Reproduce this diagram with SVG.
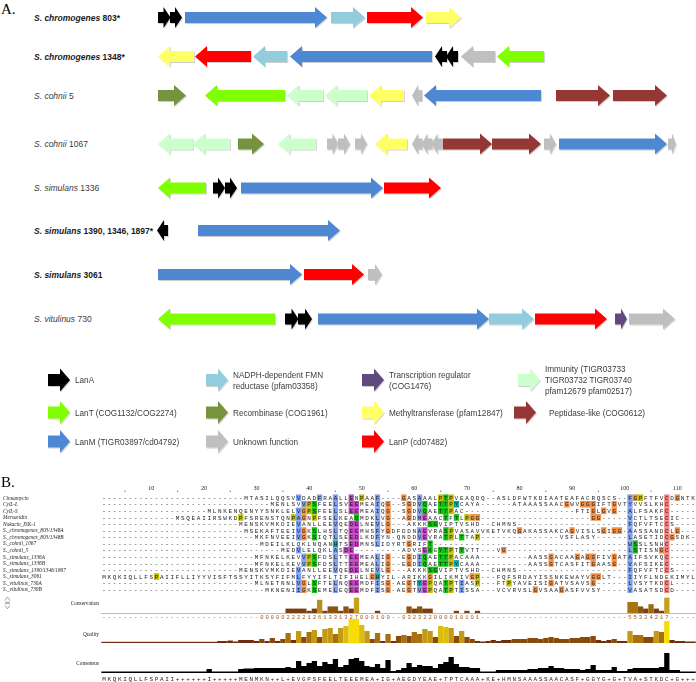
<svg xmlns="http://www.w3.org/2000/svg" xmlns:xlink="http://www.w3.org/1999/xlink" width="696" height="682" viewBox="0 0 696 682">
<defs>
<style>
.big{font-family:"Liberation Serif","Times New Roman",serif;font-size:15px;fill:#000}
.lab{font-family:"Liberation Sans",Arial,sans-serif;font-size:8.5px;fill:#3c3c3c}
.lb{font-weight:bold;fill:#1a1a1a}
.it{font-style:italic}
.leg{font-family:"Liberation Sans",Arial,sans-serif;font-size:8.2px;fill:#3c3c3c}
.id{font-family:"Liberation Serif","Times New Roman",serif;font-style:italic;font-size:5.3px;fill:#222}
.seq{font-family:"Liberation Mono","Courier New",monospace;font-size:6px;letter-spacing:1.66px;fill:#1e1e1e}
.num{font-family:"Liberation Mono","Courier New",monospace;font-size:5.5px;letter-spacing:1.96px;fill:#a0581e}
.rul{font-family:"Liberation Serif","Times New Roman",serif;font-size:6px;text-anchor:middle;fill:#222}
.an{font-family:"Liberation Serif","Times New Roman",serif;font-size:5.3px;text-anchor:end;fill:#222}
.k{fill:#000}.lt{fill:#80ff00}.lm{fill:#5088d2}.fmn{fill:#93cddd}.rec{fill:#77933c}.unk{fill:#bfbfbf}
.tr{fill:#604a7b}.met{fill:#ffff66}.lp{fill:#ff0000}.imm{fill:#ccffcc}.pep{fill:#953735}
.b{fill:#80a0f0}.r{fill:#f08080}.g{fill:#15c015}.m{fill:#c048c0}.o{fill:#f09048}.y{fill:#c0c000}.c{fill:#15a4a4}
.q1{fill:#6e2e0c}.q2{fill:#8a4a0e}.q3{fill:#a8700f}.q4{fill:#c49a14}.q5{fill:#dcbc10}.q6{fill:#f5de00}
.cv1{fill:#7b3d12}.cv3{fill:#8c5210}.cv4{fill:#a0690e}.cv5{fill:#a8740e}.cv6{fill:#b8901a}.cv7{fill:#c8a01e}
</style>
<filter id="sh" x="-5%" y="-30%" width="110%" height="170%">
<feDropShadow dx="0.8" dy="1" stdDeviation="0.7" flood-color="#000" flood-opacity="0.2"/>
</filter>
<path id="la" d="M0 -6H12V-11.5L22 0L12 11.5V6H0Z"/>
</defs>
<rect width="696" height="682" fill="#fff"/>

<!-- Panel A -->
<text class="big" x="1" y="13.5">A.</text>

<g id="labels-A">
<text class="lab lb" x="34" y="21"><tspan class="it">S. chromogenes</tspan> 803*</text>
<text class="lab lb" x="34" y="60"><tspan class="it">S. chromogenes</tspan> 1348*</text>
<text class="lab" x="34" y="98.5"><tspan class="it">S. cohnii</tspan> 5</text>
<text class="lab" x="34" y="147"><tspan class="it">S. cohnii</tspan> 1067</text>
<text class="lab" x="34" y="191"><tspan class="it">S. simulans</tspan> 1336</text>
<text class="lab lb" x="34" y="233.5"><tspan class="it">S. simulans</tspan> 1390, 1346, 1897*</text>
<text class="lab lb" x="34" y="278"><tspan class="it">S. simulans</tspan> 3061</text>
<text class="lab" x="34" y="322"><tspan class="it">S. vitulinus</tspan> 730</text>
</g>

<g id="cluster-803" filter="url(#sh)">
<path class="k" d="M158 12H163.5V7L170.5 17.5L163.5 28V23H158Z"/>
<path class="k" d="M170 12H175V7L182 17.5L175 28V23H170Z"/>
<path class="lm" d="M185 12H315V7L327 17.5L315 28V23H185Z"/>
<path class="fmn" d="M331 12H353V7L365 17.5L353 28V23H331Z"/>
<path class="lp" d="M367 12H411V7L423 17.5L411 28V23H367Z"/>
<path class="met" d="M426 12H449V7L461 17.5L449 28V23H426Z"/>
</g>
<g id="cluster-1348" filter="url(#sh)">
<path class="met" d="M194 51H170V46L158 56.5L170 67V62H194Z"/>
<path class="lp" d="M251 51H207V46L195 56.5L207 67V62H251Z"/>
<path class="fmn" d="M287 51H265V46L253 56.5L265 67V62H287Z"/>
<path class="lm" d="M432 51H302V46L290 56.5L302 67V62H432Z"/>
<path class="k" d="M447 51H442V46L435 56.5L442 67V62H447Z"/>
<path class="k" d="M458 51H453V46L446 56.5L453 67V62H458Z"/>
<path class="unk" d="M495 51H473V46L461 56.5L473 67V62H495Z"/>
<path class="lt" d="M544 51H509V46L497 56.5L509 67V62H544Z"/>
</g>
<g id="cluster-cohnii5" filter="url(#sh)">
<path class="rec" d="M158 90H174V85L186 95.5L174 106V101H158Z"/>
<path class="lt" d="M285 90H217V85L205 95.5L217 106V101H285Z"/>
<path class="imm" d="M323 90H299V85L287 95.5L299 106V101H323Z"/>
<path class="imm" d="M367 90H337V85L325 95.5L337 106V101H367Z"/>
<path class="met" d="M404 90H381V85L369 95.5L381 106V101H404Z"/>
<path class="unk" d="M422 90H418V85L412 95.5L418 106V101H422Z"/>
<path class="lm" d="M541 90H436V85L424 95.5L436 106V101H541Z"/>
<path class="pep" d="M556 90H598V85L610 95.5L598 106V101H556Z"/>
<path class="pep" d="M613 90H655V85L667 95.5L655 106V101H613Z"/>
</g>
<g id="cluster-cohnii1067" filter="url(#sh)">
<path class="imm" d="M193 138.5H170V133.5L158 144L170 154.5V149.5H193Z"/>
<path class="imm" d="M230 138.5H205V133.5L193 144L205 154.5V149.5H230Z"/>
<path class="rec" d="M238 138.5H252V133.5L264 144L252 154.5V149.5H238Z"/>
<path class="imm" d="M316 138.5H290V133.5L278 144L290 154.5V149.5H316Z"/>
<path class="unk" d="M327 138.5H332.5V133.5L338.5 144L332.5 154.5V149.5H327Z"/>
<path class="unk" d="M338 138.5H344V133.5L350 144L344 154.5V149.5H338Z"/>
<path class="unk" d="M355 138.5H361V133.5L367 144L361 154.5V149.5H355Z"/>
<path class="met" d="M407 138.5H387V133.5L375 144L387 154.5V149.5H407Z"/>
<path class="unk" d="M422.5 138.5H418V133.5L412 144L418 154.5V149.5H422.5Z"/>
<path class="unk" d="M432.5 138.5H427.5V133.5L421.5 144L427.5 154.5V149.5H432.5Z"/>
<path class="unk" d="M443 138.5H437.5V133.5L431.5 144L437.5 154.5V149.5H443Z"/>
<path class="pep" d="M443 138.5H480V133.5L492 144L480 154.5V149.5H443Z"/>
<path class="pep" d="M492 138.5H529V133.5L541 144L529 154.5V149.5H492Z"/>
<path class="unk" d="M544 138.5H550V133.5L556 144L550 154.5V149.5H544Z"/>
<path class="lm" d="M559 138.5H655V133.5L667 144L655 154.5V149.5H559Z"/>
<path class="unk" d="M668 138.5H672V133.5L676 144L672 154.5V149.5H668Z"/>
</g>
<g id="cluster-1336" filter="url(#sh)">
<path class="lt" d="M206 182.5H170V177.5L158 188L170 198.5V193.5H206Z"/>
<path class="k" d="M213 182.5H218V177.5L225 188L218 198.5V193.5H213Z"/>
<path class="k" d="M225 182.5H230V177.5L237 188L230 198.5V193.5H225Z"/>
<path class="lm" d="M241 182.5H371V177.5L383 188L371 198.5V193.5H241Z"/>
<path class="lp" d="M384 182.5H429V177.5L441 188L429 198.5V193.5H384Z"/>
</g>
<g id="cluster-1390" filter="url(#sh)">
<path class="k" d="M168 225H164V220L157 230.5L164 241V236H168Z"/>
<path class="lm" d="M198 225H328V220L340 230.5L328 241V236H198Z"/>
</g>
<g id="cluster-3061" filter="url(#sh)">
<path class="lm" d="M158 269H290V264L302 274.5L290 285V280H158Z"/>
<path class="lp" d="M304 269H352V264L364 274.5L352 285V280H304Z"/>
<path class="unk" d="M368 269H375V264L382 274.5L375 285V280H368Z"/>
</g>
<g id="cluster-730" filter="url(#sh)">
<path class="lt" d="M275 313.5H170V308.5L158 319L170 329.5V324.5H275Z"/>
<path class="k" d="M285 313.5H291.5V308.5L298.5 319L291.5 329.5V324.5H285Z"/>
<path class="k" d="M298 313.5H305V308.5L312 319L305 329.5V324.5H298Z"/>
<path class="lm" d="M318 313.5H477V308.5L489 319L477 329.5V324.5H318Z"/>
<path class="fmn" d="M489 313.5H522V308.5L534 319L522 329.5V324.5H489Z"/>
<path class="lp" d="M535 313.5H595V308.5L607 319L595 329.5V324.5H535Z"/>
<path class="tr" d="M615 313.5H621V308.5L627 319L621 329.5V324.5H615Z"/>
<path class="unk" d="M629 313.5H663V308.5L675 319L663 329.5V324.5H629Z"/>
</g>

<g id="legend">
<g filter="url(#sh)">
<use xlink:href="#la" href="#la" class="k" x="48" y="380"/>
<use xlink:href="#la" href="#la" class="lt" x="48" y="412.5"/>
<use xlink:href="#la" href="#la" class="lm" x="48" y="441.5"/>
<use xlink:href="#la" href="#la" class="fmn" x="206" y="380"/>
<use xlink:href="#la" href="#la" class="rec" x="206" y="412.5"/>
<use xlink:href="#la" href="#la" class="unk" x="206" y="441.5"/>
<use xlink:href="#la" href="#la" class="tr" x="362" y="380"/>
<use xlink:href="#la" href="#la" class="met" x="362" y="412.5"/>
<use xlink:href="#la" href="#la" class="lp" x="362" y="441.5"/>
<use xlink:href="#la" href="#la" class="imm" x="518" y="380"/>
<use xlink:href="#la" href="#la" class="pep" x="514" y="412.5"/>
</g>
<text class="leg" x="75" y="383">LanA</text>
<text class="leg" x="75" y="415.5">LanT (COG1132/COG2274)</text>
<text class="leg" x="75" y="444.5">LanM (TIGR03897/cd04792)</text>
<text class="leg" x="233" y="377.5">NADPH-dependent FMN</text>
<text class="leg" x="233" y="388.5">reductase (pfam03358)</text>
<text class="leg" x="233" y="415.5">Recombinase (COG1961)</text>
<text class="leg" x="233" y="444.5">Unknown function</text>
<text class="leg" x="389" y="377.5">Transcription regulator</text>
<text class="leg" x="389" y="388.5">(COG1476)</text>
<text class="leg" x="389" y="415.5">Methyltransferase (pfam12847)</text>
<text class="leg" x="389" y="444.5">LanP (cd07482)</text>
<text class="leg" x="545" y="372">Immunity (TIGR03733</text>
<text class="leg" x="545" y="383">TIGR03732 TIGR03740</text>
<text class="leg" x="545" y="394">pfam12679 pfam02517)</text>
<text class="leg" x="549" y="415.5">Peptidase-like (COG0612)</text>
</g>

<!-- Panel B -->
<text class="big" x="1" y="487">B.</text>

<g id="ruler">
<text class="rul" x="151.34" y="490">10</text>
<text class="rul" x="203.94" y="490">20</text>
<text class="rul" x="256.54" y="490">30</text>
<text class="rul" x="309.14" y="490">40</text>
<text class="rul" x="361.74" y="490">50</text>
<text class="rul" x="414.34" y="490">60</text>
<text class="rul" x="466.94" y="490">70</text>
<text class="rul" x="519.54" y="490">80</text>
<text class="rul" x="572.14" y="490">90</text>
<text class="rul" x="624.74" y="490">100</text>
<text class="rul" x="677.34" y="490">110</text>
<path d="M125.04 490.6v1.4M177.64 490.6v1.4M230.24 490.6v1.4M282.84 490.6v1.4M335.44 490.6v1.4M388.04 490.6v1.4M440.64 490.6v1.4M493.24 490.6v1.4M545.84 490.6v1.4M598.44 490.6v1.4M651.04 490.6v1.4" stroke="#333" stroke-width="0.7"/>
</g>

<g id="highlights">
<g transform="translate(101.37 494.4) scale(5.26 1)">
<rect x="37" width="1" height="6.6" class="b"/><rect x="41" width="1" height="6.6" class="b"/><rect x="44" width="1" height="6.6" class="b"/><rect x="47" width="1" height="6.6" class="m"/><rect x="49" width="1" height="6.6" class="y"/><rect x="52" width="1" height="6.6" class="b"/><rect x="57" width="1" height="6.6" class="o"/><rect x="60" width="1" height="6.6" class="b"/><rect x="64" width="1" height="6.6" class="y"/><rect x="65" width="1" height="6.6" class="g"/><rect x="66" width="1" height="6.6" class="y"/><rect x="100" width="1" height="6.6" class="b"/><rect x="101" width="1" height="6.6" class="o"/><rect x="102" width="1" height="6.6" class="y"/><rect x="107" width="1" height="6.6" class="r"/><rect x="109" width="1" height="6.6" class="o"/>
</g>
<g transform="translate(101.37 500.97) scale(5.26 1)">
<rect x="38" width="1" height="6.6" class="b"/><rect x="39" width="1" height="6.6" class="y"/><rect x="40" width="1" height="6.6" class="g"/><rect x="44" width="1" height="6.6" class="b"/><rect x="47" width="2" height="6.6" class="m"/><rect x="52" width="1" height="6.6" class="b"/><rect x="54" width="1" height="6.6" class="o"/><rect x="58" width="1" height="6.6" class="o"/><rect x="60" width="1" height="6.6" class="b"/><rect x="61" width="1" height="6.6" class="g"/><rect x="64" width="2" height="6.6" class="g"/><rect x="66" width="1" height="6.6" class="y"/><rect x="67" width="1" height="6.6" class="c"/><rect x="88" width="1" height="6.6" class="o"/><rect x="91" width="3" height="6.6" class="o"/><rect x="97" width="1" height="6.6" class="o"/><rect x="100" width="1" height="6.6" class="b"/><rect x="107" width="1" height="6.6" class="r"/>
</g>
<g transform="translate(101.37 507.54) scale(5.26 1)">
<rect x="37" width="1" height="6.6" class="b"/><rect x="38" width="1" height="6.6" class="o"/><rect x="39" width="1" height="6.6" class="y"/><rect x="40" width="1" height="6.6" class="g"/><rect x="44" width="1" height="6.6" class="b"/><rect x="47" width="2" height="6.6" class="m"/><rect x="52" width="1" height="6.6" class="b"/><rect x="54" width="1" height="6.6" class="o"/><rect x="58" width="1" height="6.6" class="o"/><rect x="60" width="1" height="6.6" class="b"/><rect x="61" width="1" height="6.6" class="g"/><rect x="64" width="2" height="6.6" class="g"/><rect x="66" width="1" height="6.6" class="y"/><rect x="93" width="1" height="6.6" class="o"/><rect x="95" width="1" height="6.6" class="o"/><rect x="97" width="1" height="6.6" class="o"/><rect x="100" width="1" height="6.6" class="b"/><rect x="107" width="1" height="6.6" class="r"/>
</g>
<g transform="translate(101.37 514.11) scale(5.26 1)">
<rect x="26" width="1" height="6.6" class="y"/><rect x="36" width="1" height="6.6" class="y"/><rect x="37" width="1" height="6.6" class="b"/><rect x="38" width="1" height="6.6" class="o"/><rect x="40" width="1" height="6.6" class="y"/><rect x="44" width="1" height="6.6" class="b"/><rect x="48" width="1" height="6.6" class="g"/><rect x="52" width="1" height="6.6" class="b"/><rect x="54" width="1" height="6.6" class="o"/><rect x="58" width="1" height="6.6" class="o"/><rect x="60" width="1" height="6.6" class="b"/><rect x="61" width="1" height="6.6" class="m"/><rect x="65" width="1" height="6.6" class="g"/><rect x="67" width="1" height="6.6" class="g"/><rect x="69" width="1" height="6.6" class="y"/><rect x="70" width="2" height="6.6" class="o"/><rect x="93" width="2" height="6.6" class="o"/><rect x="100" width="1" height="6.6" class="b"/><rect x="107" width="1" height="6.6" class="r"/>
</g>
<g transform="translate(101.37 520.68) scale(5.26 1)">
<rect x="37" width="1" height="6.6" class="b"/><rect x="44" width="1" height="6.6" class="b"/><rect x="47" width="2" height="6.6" class="m"/><rect x="52" width="1" height="6.6" class="b"/><rect x="54" width="1" height="6.6" class="o"/><rect x="62" width="2" height="6.6" class="g"/><rect x="100" width="1" height="6.6" class="b"/><rect x="107" width="1" height="6.6" class="r"/>
</g>
<g transform="translate(101.37 527.25) scale(5.26 1)">
<rect x="37" width="1" height="6.6" class="b"/><rect x="38" width="1" height="6.6" class="o"/><rect x="40" width="1" height="6.6" class="g"/><rect x="44" width="1" height="6.6" class="b"/><rect x="47" width="2" height="6.6" class="m"/><rect x="52" width="1" height="6.6" class="b"/><rect x="54" width="1" height="6.6" class="o"/><rect x="60" width="1" height="6.6" class="b"/><rect x="61" width="1" height="6.6" class="m"/><rect x="65" width="1" height="6.6" class="g"/><rect x="66" width="1" height="6.6" class="y"/><rect x="79" width="1" height="6.6" class="o"/><rect x="89" width="1" height="6.6" class="o"/><rect x="95" width="1" height="6.6" class="o"/><rect x="97" width="2" height="6.6" class="o"/><rect x="100" width="1" height="6.6" class="b"/><rect x="107" width="1" height="6.6" class="r"/><rect x="109" width="1" height="6.6" class="o"/>
</g>
<g transform="translate(101.37 533.82) scale(5.26 1)">
<rect x="37" width="1" height="6.6" class="b"/><rect x="38" width="1" height="6.6" class="o"/><rect x="40" width="1" height="6.6" class="g"/><rect x="44" width="1" height="6.6" class="b"/><rect x="47" width="2" height="6.6" class="m"/><rect x="52" width="1" height="6.6" class="b"/><rect x="60" width="1" height="6.6" class="b"/><rect x="61" width="1" height="6.6" class="m"/><rect x="65" width="1" height="6.6" class="g"/><rect x="66" width="1" height="6.6" class="y"/><rect x="68" width="1" height="6.6" class="g"/><rect x="71" width="1" height="6.6" class="y"/><rect x="100" width="1" height="6.6" class="b"/><rect x="107" width="1" height="6.6" class="r"/><rect x="108" width="1" height="6.6" class="o"/>
</g>
<g transform="translate(101.37 540.39) scale(5.26 1)">
<rect x="44" width="1" height="6.6" class="c"/><rect x="47" width="2" height="6.6" class="m"/><rect x="52" width="1" height="6.6" class="b"/><rect x="58" width="1" height="6.6" class="o"/><rect x="62" width="1" height="6.6" class="g"/><rect x="100" width="1" height="6.6" class="b"/><rect x="101" width="1" height="6.6" class="g"/><rect x="107" width="1" height="6.6" class="r"/>
</g>
<g transform="translate(101.37 546.96) scale(5.26 1)">
<rect x="37" width="1" height="6.6" class="b"/><rect x="44" width="1" height="6.6" class="b"/><rect x="46" width="2" height="6.6" class="m"/><rect x="61" width="1" height="6.6" class="m"/><rect x="62" width="1" height="6.6" class="g"/><rect x="64" width="2" height="6.6" class="g"/><rect x="66" width="1" height="6.6" class="y"/><rect x="68" width="1" height="6.6" class="g"/><rect x="76" width="1" height="6.6" class="o"/><rect x="100" width="1" height="6.6" class="b"/><rect x="101" width="1" height="6.6" class="g"/><rect x="106" width="1" height="6.6" class="o"/><rect x="107" width="1" height="6.6" class="r"/>
</g>
<g transform="translate(101.37 553.53) scale(5.26 1)">
<rect x="38" width="1" height="6.6" class="b"/><rect x="39" width="1" height="6.6" class="y"/><rect x="40" width="1" height="6.6" class="g"/><rect x="44" width="1" height="6.6" class="b"/><rect x="47" width="2" height="6.6" class="m"/><rect x="52" width="1" height="6.6" class="b"/><rect x="54" width="1" height="6.6" class="o"/><rect x="58" width="1" height="6.6" class="o"/><rect x="60" width="1" height="6.6" class="b"/><rect x="61" width="1" height="6.6" class="g"/><rect x="64" width="2" height="6.6" class="g"/><rect x="66" width="1" height="6.6" class="y"/><rect x="85" width="1" height="6.6" class="o"/><rect x="90" width="1" height="6.6" class="o"/><rect x="92" width="2" height="6.6" class="o"/><rect x="97" width="1" height="6.6" class="o"/><rect x="100" width="1" height="6.6" class="b"/><rect x="107" width="1" height="6.6" class="r"/>
</g>
<g transform="translate(101.37 560.1) scale(5.26 1)">
<rect x="38" width="1" height="6.6" class="b"/><rect x="39" width="1" height="6.6" class="y"/><rect x="40" width="1" height="6.6" class="g"/><rect x="44" width="1" height="6.6" class="b"/><rect x="47" width="2" height="6.6" class="m"/><rect x="52" width="1" height="6.6" class="b"/><rect x="54" width="1" height="6.6" class="o"/><rect x="58" width="1" height="6.6" class="o"/><rect x="60" width="1" height="6.6" class="b"/><rect x="61" width="1" height="6.6" class="g"/><rect x="64" width="2" height="6.6" class="g"/><rect x="66" width="1" height="6.6" class="y"/><rect x="67" width="1" height="6.6" class="c"/><rect x="85" width="1" height="6.6" class="o"/><rect x="93" width="1" height="6.6" class="o"/><rect x="97" width="1" height="6.6" class="o"/><rect x="100" width="1" height="6.6" class="b"/><rect x="107" width="1" height="6.6" class="r"/>
</g>
<g transform="translate(101.37 566.67) scale(5.26 1)">
<rect x="37" width="1" height="6.6" class="b"/><rect x="44" width="1" height="6.6" class="b"/><rect x="47" width="2" height="6.6" class="m"/><rect x="52" width="1" height="6.6" class="b"/><rect x="54" width="1" height="6.6" class="o"/><rect x="62" width="2" height="6.6" class="g"/><rect x="100" width="1" height="6.6" class="b"/><rect x="107" width="1" height="6.6" class="r"/>
</g>
<g transform="translate(101.37 573.24) scale(5.26 1)">
<rect x="10" width="1" height="6.6" class="y"/><rect x="37" width="1" height="6.6" class="b"/><rect x="51" width="1" height="6.6" class="o"/><rect x="52" width="1" height="6.6" class="c"/><rect x="62" width="1" height="6.6" class="o"/><rect x="70" width="1" height="6.6" class="o"/><rect x="71" width="1" height="6.6" class="y"/><rect x="93" width="2" height="6.6" class="o"/><rect x="100" width="1" height="6.6" class="b"/>
</g>
<g transform="translate(101.37 579.81) scale(5.26 1)">
<rect x="37" width="1" height="6.6" class="b"/><rect x="38" width="1" height="6.6" class="o"/><rect x="40" width="1" height="6.6" class="g"/><rect x="44" width="1" height="6.6" class="b"/><rect x="47" width="2" height="6.6" class="m"/><rect x="52" width="1" height="6.6" class="b"/><rect x="54" width="1" height="6.6" class="o"/><rect x="58" width="1" height="6.6" class="o"/><rect x="60" width="1" height="6.6" class="c"/><rect x="61" width="1" height="6.6" class="m"/><rect x="62" width="1" height="6.6" class="y"/><rect x="65" width="1" height="6.6" class="g"/><rect x="66" width="1" height="6.6" class="y"/><rect x="68" width="1" height="6.6" class="b"/><rect x="71" width="1" height="6.6" class="y"/><rect x="77" width="1" height="6.6" class="y"/><rect x="85" width="1" height="6.6" class="o"/><rect x="93" width="1" height="6.6" class="o"/><rect x="100" width="1" height="6.6" class="b"/><rect x="107" width="1" height="6.6" class="r"/>
</g>
<g transform="translate(101.37 586.38) scale(5.26 1)">
<rect x="37" width="1" height="6.6" class="b"/><rect x="38" width="1" height="6.6" class="o"/><rect x="40" width="1" height="6.6" class="g"/><rect x="44" width="1" height="6.6" class="b"/><rect x="47" width="2" height="6.6" class="m"/><rect x="52" width="1" height="6.6" class="b"/><rect x="54" width="1" height="6.6" class="o"/><rect x="58" width="1" height="6.6" class="o"/><rect x="60" width="1" height="6.6" class="b"/><rect x="61" width="1" height="6.6" class="m"/><rect x="62" width="1" height="6.6" class="y"/><rect x="65" width="1" height="6.6" class="g"/><rect x="66" width="1" height="6.6" class="y"/><rect x="68" width="1" height="6.6" class="b"/><rect x="82" width="1" height="6.6" class="o"/><rect x="87" width="1" height="6.6" class="o"/><rect x="100" width="1" height="6.6" class="b"/><rect x="107" width="1" height="6.6" class="r"/>
</g>
</g>

<g id="seq-ids">
<text class="id" x="3" y="499.5">Cinnamycin</text>
<text class="id" x="3" y="506.07">CylL-L</text>
<text class="id" x="3" y="512.64">CylL-S</text>
<text class="id" x="3" y="519.21">Mersacidin</text>
<text class="id" x="3" y="525.78">Nukacin_ISK-1</text>
<text class="id" x="3" y="532.35">S._chromogenes_803/1348A</text>
<text class="id" x="3" y="538.92">S._chromogenes_803/1348B</text>
<text class="id" x="3" y="545.49">S._cohnii_1067</text>
<text class="id" x="3" y="552.06">S._cohnii_5</text>
<text class="id" x="3" y="558.63">S._simulans_1336A</text>
<text class="id" x="3" y="565.2">S._simulans_1336B</text>
<text class="id" x="3" y="571.77">S._simulans_1390/1346/1897</text>
<text class="id" x="3" y="578.34">S._simulans_3061</text>
<text class="id" x="3" y="584.91">S._vitulinus_730A</text>
<text class="id" x="3" y="591.48">S._vitulinus_730B</text>
</g>

<g id="sequences">
<text class="seq" y="499.8"><tspan x="102.2">---------------------------</tspan><tspan x="244.22">MTASILQQSVVDADFRAALLENPAAF</tspan><tspan x="380.98">----</tspan><tspan x="402.02">GASAAALPTPVEAQDQ</tspan><tspan x="486.18">--</tspan><tspan x="496.7">ASLDFWTKDIAATEAFACRQSCS</tspan><tspan x="617.68">--</tspan><tspan x="628.2">FGPFTFVCDGNTK</tspan></text>
<text class="seq" y="506.37"><tspan x="102.2">--------------------------------</tspan><tspan x="270.52">MENLSVVPSFEELSVEEMEAIQG</tspan><tspan x="391.5">--</tspan><tspan x="402.02">SGDVQAETTPYCAYA</tspan><tspan x="480.92">------</tspan><tspan x="512.48">ATAAASSAACGWVGGGIFTGVT</tspan><tspan x="628.2">YVVSLKHC</tspan><tspan x="670.28">-----</tspan></text>
<text class="seq" y="512.94"><tspan x="102.2">--------------------</tspan><tspan x="207.4">MLNKENQENYYSNKLELVGPSFEELSLEEMEAIQG</tspan><tspan x="391.5">--</tspan><tspan x="402.02">SGDVQAETTPAC</tspan><tspan x="465.14">---------------------</tspan><tspan x="575.6">FTIGLGVG</tspan><tspan x="617.68">--</tspan><tspan x="628.2">ALFSAKFC</tspan><tspan x="670.28">-----</tspan></text>
<text class="seq" y="519.51"><tspan x="102.2">--------------</tspan><tspan x="175.84">MSQEAIIRSWKDPFSRENSTQNPAGNPFSELKEAQMDKLVG</tspan><tspan x="391.5">--</tspan><tspan x="402.02">AGDMEAACTFTLPGG</tspan><tspan x="480.92">---------------------</tspan><tspan x="591.38">GG</tspan><tspan x="601.9">-----</tspan><tspan x="628.2">VCTLTSECIC</tspan><tspan x="680.8">---</tspan></text>
<text class="seq" y="526.08"><tspan x="102.2">--------------------------</tspan><tspan x="238.96">MENSKVMKDIEVANLLEEVQEDELNEVLG</tspan><tspan x="391.5">---</tspan><tspan x="407.28">AKKKSGVIPTVSHD</tspan><tspan x="480.92">--</tspan><tspan x="491.44">CHMNS</tspan><tspan x="517.74">---------------------</tspan><tspan x="628.2">FQFVFTCCS</tspan><tspan x="675.54">----</tspan></text>
<text class="seq" y="532.65"><tspan x="102.2">---------------------------</tspan><tspan x="244.22">MSEKAFTEEIVGKSLHSLTQEEMHSFYGDFDDNAEVRASPVASAVVKETVKQGAKASSAKCAGVISLSGIGG</tspan><tspan x="622.94">-</tspan><tspan x="628.2">AASSANDCLG</tspan><tspan x="680.8">---</tspan></text>
<text class="seq" y="539.22"><tspan x="102.2">-----------------------------</tspan><tspan x="254.74">MKFNVEEIVGKSIQTLSEEDLKDFYN</tspan><tspan x="391.5">-</tspan><tspan x="396.76">QNDDVEVRATPLTTAP</tspan><tspan x="480.92">---------------</tspan><tspan x="559.82">VSFLASY</tspan><tspan x="596.64">------</tspan><tspan x="628.2">LASETIDCGSDK</tspan><tspan x="691.32">-</tspan></text>
<text class="seq" y="545.79"><tspan x="102.2">------------------------------</tspan><tspan x="260">MDEILKLQKLNQANHTSEDMNSLIDYRTGRIFT</tspan><tspan x="433.58">-------------------------------------</tspan><tspan x="628.2">WSSLSNHC</tspan><tspan x="670.28">-----</tspan></text>
<text class="seq" y="552.36"><tspan x="102.2">----------------------------------</tspan><tspan x="281.04">MEDVLELQKLASDE</tspan><tspan x="354.68">---------</tspan><tspan x="402.02">ADVSEKGYTPTTVTT</tspan><tspan x="480.92">---</tspan><tspan x="496.7">VG</tspan><tspan x="507.22">-----------------------</tspan><tspan x="628.2">LSTISNGC</tspan><tspan x="670.28">-----</tspan></text>
<text class="seq" y="558.93"><tspan x="102.2">-----------------------------</tspan><tspan x="254.74">MFNKELKEVVPSFDSLTTEEMEALIG</tspan><tspan x="391.5">--</tspan><tspan x="402.02">EGDIQAETTPACAAA</tspan><tspan x="480.92">---------</tspan><tspan x="528.26">AASSGACAAGAGGFIVGAT</tspan><tspan x="628.2">AIFSVKQC</tspan><tspan x="670.28">-----</tspan></text>
<text class="seq" y="565.5"><tspan x="102.2">-----------------------------</tspan><tspan x="254.74">MFNKELKEVVPSFDSLTTEEMEALIG</tspan><tspan x="391.5">--</tspan><tspan x="402.02">EGDIQAETTPYCAAA</tspan><tspan x="480.92">---------</tspan><tspan x="528.26">AASSGTCASFITGAASG</tspan><tspan x="617.68">--</tspan><tspan x="628.2">VAFSIKEC</tspan><tspan x="670.28">-----</tspan></text>
<text class="seq" y="572.07"><tspan x="102.2">--------------------------</tspan><tspan x="238.96">MENSKVMKDIEVANLLEEVQEDELNEVLG</tspan><tspan x="391.5">---</tspan><tspan x="407.28">AKKKSGVIPTVSHD</tspan><tspan x="480.92">--</tspan><tspan x="491.44">CHMNS</tspan><tspan x="517.74">---------------------</tspan><tspan x="628.2">FQFVFTCCS</tspan><tspan x="675.54">----</tspan></text>
<text class="seq" y="578.64"><tspan x="102.2">MKQKIQLLFSPAIIFLLIYYVISFTSSYITKSYFIFMLFYYIFLTIFIHELGHYIL</tspan><tspan x="396.76">-</tspan><tspan x="402.02">ARIKKGILIKMIVGP</tspan><tspan x="480.92">---</tspan><tspan x="496.7">FQFSRDAYISSNKEWAYVGGLT</tspan><tspan x="612.42">---</tspan><tspan x="628.2">IIYFLNDEKIMYL</tspan></text>
<text class="seq" y="585.21"><tspan x="102.2">-----------------------------</tspan><tspan x="254.74">MLNETNNLVGLSFTELNQEEMDFISG</tspan><tspan x="391.5">-</tspan><tspan x="396.76">AEGTYEPQATPTIASP</tspan><tspan x="480.92">---</tspan><tspan x="496.7">FTPYAVEISIGATVSAVSG</tspan><tspan x="596.64">------</tspan><tspan x="628.2">LVSYTKDCL</tspan><tspan x="675.54">----</tspan></text>
<text class="seq" y="591.78"><tspan x="102.2">-------------------------------</tspan><tspan x="265.26">MKNENIIGKSEMELEQEEMDFISG</tspan><tspan x="391.5">-</tspan><tspan x="396.76">AEGTVEPQATPTISSA</tspan><tspan x="480.92">---</tspan><tspan x="496.7">VCVRVSLGVSAAGASFVVSY</tspan><tspan x="601.9">-----</tspan><tspan x="628.2">VASATSDCD</tspan><tspan x="675.54">----</tspan></text>
</g>

<g id="annotations">
<path d="M5 600.5L7.5 597L10 600.5M5 602.2H10M5 603.6H10M5 605.3L7.5 608.8L10 605.3" fill="none" stroke="#666" stroke-width="0.6"/>
<text class="an" x="99" y="605">Conservation</text>
<text class="an" x="99" y="636">Quality</text>
<text class="an" x="99" y="665">Consensus</text>
<line x1="101" y1="613.5" x2="696" y2="613.5" stroke="#aaa" stroke-width="0.8"/>
<g transform="translate(101.37 613) scale(5.26 -1)">
<rect x="35" width="4" height="4.4" class="cv1"/><rect x="39" width="1" height="2.2" class="cv1"/><rect x="40" width="1" height="4.4" class="cv1"/><rect x="41" width="1" height="13.2" class="cv6"/><rect x="42" width="1" height="2.2" class="cv1"/><rect x="43" width="2" height="6.6" class="cv3"/><rect x="45" width="1" height="2.2" class="cv1"/><rect x="46" width="1" height="6.6" class="cv3"/><rect x="47" width="1" height="4.4" class="cv1"/><rect x="48" width="1" height="15.4" class="cv7"/><rect x="52" width="1" height="2.2" class="cv1"/><rect x="58" width="1" height="6.6" class="cv3"/><rect x="59" width="1" height="4.4" class="cv1"/><rect x="60" width="1" height="6.6" class="cv3"/><rect x="61" width="2" height="4.4" class="cv1"/><rect x="67" width="1" height="2.2" class="cv1"/><rect x="69" width="1" height="2.2" class="cv1"/><rect x="71" width="1" height="2.2" class="cv1"/><rect x="100" width="2" height="11" class="cv5"/><rect x="102" width="1" height="6.6" class="cv3"/><rect x="103" width="1" height="4.4" class="cv1"/><rect x="104" width="1" height="8.8" class="cv4"/><rect x="105" width="1" height="4.4" class="cv1"/><rect x="106" width="1" height="2.2" class="cv1"/><rect x="107" width="1" height="15.4" class="cv7"/>
</g>
<text class="num" y="618.5"><tspan x="102.35">------------------------------</tspan><tspan x="260.15">0000022221261331327000100</tspan><tspan x="391.65">--</tspan><tspan x="402.17">032322000010101</tspan><tspan x="481.07">----------------------------</tspan><tspan x="628.35">55324217</tspan><tspan x="670.43">-----</tspan></text>
<g transform="translate(101.37 643) scale(5.26 -1)">
<rect x="0" width="22" height="1.2" class="q1"/><rect x="22" width="2" height="2" class="q1"/><rect x="24" width="1" height="2.5" class="q1"/><rect x="25" width="1" height="1.5" class="q1"/><rect x="26" width="3" height="3" class="q1"/><rect x="29" width="1" height="2" class="q1"/><rect x="30" width="1" height="4" class="q2"/><rect x="31" width="1" height="2" class="q1"/><rect x="32" width="1" height="5" class="q2"/><rect x="33" width="1" height="2" class="q1"/><rect x="34" width="1" height="4" class="q2"/><rect x="35" width="1" height="10" class="q3"/><rect x="36" width="1" height="3" class="q1"/><rect x="37" width="1" height="12" class="q4"/><rect x="38" width="1" height="6" class="q2"/><rect x="39" width="1" height="11" class="q3"/><rect x="40" width="1" height="13" class="q4"/><rect x="41" width="1" height="6" class="q2"/><rect x="42" width="1" height="14" class="q4"/><rect x="43" width="1" height="15" class="q4"/><rect x="44" width="1" height="9" class="q3"/><rect x="45" width="1" height="15" class="q4"/><rect x="46" width="1" height="17" class="q5"/><rect x="47" width="2" height="24" class="q6"/><rect x="49" width="1" height="18" class="q5"/><rect x="50" width="1" height="12" class="q4"/><rect x="51" width="1" height="4" class="q2"/><rect x="52" width="1" height="10" class="q3"/><rect x="53" width="1" height="2" class="q1"/><rect x="54" width="1" height="9" class="q3"/><rect x="55" width="1" height="2" class="q1"/><rect x="56" width="1" height="7" class="q2"/><rect x="57" width="1" height="8" class="q3"/><rect x="58" width="1" height="7" class="q2"/><rect x="59" width="1" height="11" class="q3"/><rect x="60" width="1" height="9" class="q3"/><rect x="61" width="1" height="14" class="q4"/><rect x="62" width="1" height="12" class="q4"/><rect x="63" width="1" height="6" class="q2"/><rect x="64" width="1" height="17" class="q5"/><rect x="65" width="1" height="16" class="q5"/><rect x="66" width="1" height="15" class="q4"/><rect x="67" width="1" height="7" class="q2"/><rect x="68" width="1" height="12" class="q4"/><rect x="69" width="1" height="6" class="q2"/><rect x="70" width="1" height="4" class="q2"/><rect x="71" width="1" height="2" class="q1"/><rect x="72" width="1" height="1.5" class="q1"/><rect x="73" width="1" height="2" class="q1"/><rect x="74" width="1" height="3" class="q1"/><rect x="75" width="1" height="2" class="q1"/><rect x="76" width="2" height="3" class="q1"/><rect x="78" width="3" height="4" class="q2"/><rect x="81" width="2" height="5" class="q2"/><rect x="83" width="1" height="4" class="q2"/><rect x="84" width="1" height="5" class="q2"/><rect x="85" width="1" height="6" class="q2"/><rect x="86" width="1" height="5" class="q2"/><rect x="87" width="2" height="4" class="q2"/><rect x="89" width="2" height="5" class="q2"/><rect x="91" width="2" height="6" class="q2"/><rect x="93" width="1" height="7" class="q2"/><rect x="94" width="1" height="3" class="q1"/><rect x="95" width="1" height="2" class="q1"/><rect x="96" width="1" height="3" class="q1"/><rect x="97" width="1" height="4" class="q2"/><rect x="98" width="2" height="2" class="q1"/><rect x="100" width="1" height="12" class="q4"/><rect x="101" width="2" height="8" class="q3"/><rect x="103" width="2" height="6" class="q2"/><rect x="105" width="1" height="12" class="q4"/><rect x="106" width="1" height="11" class="q3"/><rect x="107" width="1" height="22" class="q6"/><rect x="108" width="1" height="3" class="q1"/><rect x="109" width="2" height="2" class="q1"/><rect x="111" width="2" height="1.5" class="q1"/>
</g>
<g transform="translate(101.37 673) scale(5.26 -1)">
<path fill="#000" d="M0 0V1.5H20V4H21V1.5H26V4H27V4.5H29V5H35V6H36V5H37V12H38V7H39V10H40V12H41V7H42V11H43V9H44V14H45V6H46V8H47V14H48V15H49V12H50V7H51V6H52V9H53V5H54V13H55V2H56V3H57V5H58V10H59V6H60V8H61V7H63V5H64V9H65V11H66V16H67V9H68V6H70V5H72V1.5H75V3H81V4H83V5H85V7H86V5H88V4H91V3H92V4H93V8H94V3H97V6H98V2H100V4H101V5H106V6H107V20H108V3H110V1.5H113V0Z"/>
</g>
<text class="seq" y="681"><tspan x="102.2">MKQKIQLLFSPAII++++++I+++++</tspan><tspan x="238.96">MENMKN++L+EVGPSFEELTEEEMEA+IG+AEGDYEAE+TPTCAAA+KE+</tspan><tspan x="501.96">HMNSAAASSAACASF+GGYG+G+TVA+STKDC+G+++</tspan></text>
</g>
</svg>
